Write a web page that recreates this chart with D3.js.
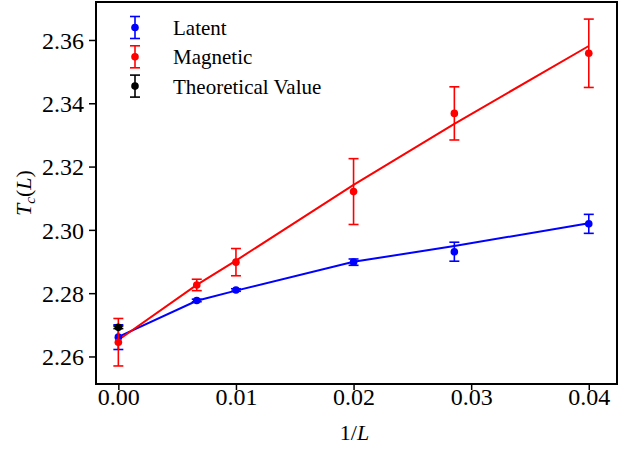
<!DOCTYPE html>
<html>
<head>
<meta charset="utf-8">
<script src="https://cdn.jsdelivr.net/npm/d3@7"></script>
<style>
  html, body { margin: 0; padding: 0; background: #fff; }
  svg { display: block; }
  svg text { font-family: 'Times New Roman', Times, 'Liberation Serif', serif; }
</style>
</head>
<body>
<script>
// ---- data ----
const invL = [0, 0.006667, 0.01, 0.02, 0.02857, 0.04];

const latentY   = [2.2661, 2.2777, 2.2810, 2.2898, 2.2931, 2.3019];
const latentErr = [0.0039, 0.0004, 0.0004, 0.0010, 0.0030, 0.0030];
const latentFit = [2.2662, 2.2776, 2.2808, 2.2899, 2.2949, 2.3021];

const magY   = [2.2645, 2.2826, 2.2898, 2.3121, 2.3368, 2.3558];
const magErr = [0.0075, 0.0018, 0.0043, 0.0104, 0.0084, 0.0108];
const magFit = [2.2652, 2.2826, 2.2903, 2.3142, 2.3335, 2.3581];

const theoX = [0];
const theoY = [2.2692];
const theoErr = [0.0004];

const xTicks = [0, 0.01, 0.02, 0.03, 0.04];
const yTicks = [2.26, 2.28, 2.30, 2.32, 2.34, 2.36];

const legendLabels = ["Latent", "Magnetic", "Theoretical Value"];
const legendColors = ["#0000ff", "#ff0000", "#000000"];

// ---- layout ----
const W = 619, H = 449;
const mLeft = 96, mRight = 617, mTop = 2, mBottom = 384;

const x = d3.scaleLinear().domain([-0.0019, 0.0424]).range([mLeft, mRight]);
const y = d3.scaleLinear().domain([2.2513, 2.3720]).range([mBottom, mTop]);

const svg = d3.select("body").append("svg").attr("width", W).attr("height", H);

// axes
const xAxis = d3.axisBottom(x).tickValues(xTicks).tickFormat(d3.format(".2f")).tickSize(6).tickPadding(3);
const yAxis = d3.axisLeft(y).tickValues(yTicks).tickFormat(d3.format(".2f")).tickSize(7).tickPadding(5);

const gx = svg.append("g").attr("transform", `translate(0,${mBottom})`).call(xAxis);
const gy = svg.append("g").attr("transform", `translate(${mLeft},0)`).call(yAxis);
[gx, gy].forEach(g => {
  g.select(".domain").remove();
  g.attr("font-family", null);
  g.selectAll(".tick line").attr("stroke", "#000").attr("stroke-width", 1.5);
  g.selectAll(".tick text").attr("font-size", 24).attr("fill", "#000");
});
gx.selectAll(".tick text").attr("dy", "0.52em");
gy.selectAll(".tick text").attr("dy", "0.34em");

// frame
svg.append("rect").attr("x", mLeft).attr("y", mTop).attr("width", mRight - mLeft).attr("height", mBottom - mTop)
  .attr("fill", "none").attr("stroke", "#000").attr("stroke-width", 2);

// axis labels
svg.append("text").attr("x", (mLeft + mRight) / 2 - 2).attr("y", 440).attr("text-anchor", "middle")
  .attr("font-size", 22)
  .html('1/<tspan font-style="italic">L</tspan>');

svg.append("text").attr("transform", `translate(31,193) rotate(-90)`).attr("text-anchor", "middle")
  .attr("font-size", 22)
  .html('<tspan font-style="italic">T</tspan><tspan font-style="italic" font-size="15" dy="4">c</tspan><tspan dy="-4">(</tspan><tspan font-style="italic">L</tspan>)');

// fit lines
const line = d3.line().x(d => x(d[0])).y(d => y(d[1]));
const plot = svg.append("g");
plot.append("path").datum(invL.map((v, i) => [v, latentFit[i]]))
  .attr("d", line).attr("fill", "none").attr("stroke", "#0000ff").attr("stroke-width", 2);
plot.append("path").datum(invL.map((v, i) => [v, magFit[i]]))
  .attr("d", line).attr("fill", "none").attr("stroke", "#ff0000").attr("stroke-width", 2);

// error bars
function errorbars(xs, ys, es, color) {
  const g = plot.append("g");
  const cap = 5;
  xs.forEach((xv, i) => {
    const px = x(xv), py1 = y(ys[i] + es[i]), py2 = y(ys[i] - es[i]);
    g.append("line").attr("x1", px).attr("x2", px).attr("y1", py1).attr("y2", py2)
      .attr("stroke", color).attr("stroke-width", 1.6);
    [py1, py2].forEach(py => g.append("line").attr("x1", px - cap).attr("x2", px + cap)
      .attr("y1", py).attr("y2", py).attr("stroke", color).attr("stroke-width", 1.6));
    g.append("circle").attr("cx", px).attr("cy", y(ys[i])).attr("r", 3.8).attr("fill", color);
  });
}
errorbars(invL, latentY, latentErr, "#0000ff");
errorbars(invL, magY, magErr, "#ff0000");
errorbars(theoX, theoY, theoErr, "#000000");

// legend
const lg = svg.append("g");
legendLabels.forEach((lab, i) => {
  const cy = 27.5 + i * 29.3, cx = 135;
  lg.append("line").attr("x1", cx).attr("x2", cx).attr("y1", cy - 11).attr("y2", cy + 11)
    .attr("stroke", legendColors[i]).attr("stroke-width", 1.6);
  [cy - 11, cy + 11].forEach(py => lg.append("line").attr("x1", cx - 5).attr("x2", cx + 5)
    .attr("y1", py).attr("y2", py).attr("stroke", legendColors[i]).attr("stroke-width", 1.6));
  lg.append("circle").attr("cx", cx).attr("cy", cy).attr("r", 3.8).attr("fill", legendColors[i]);
  lg.append("text").attr("x", 173).attr("y", cy + 7.5).attr("font-size", 21).text(lab);
});
</script>
</body>
</html>
